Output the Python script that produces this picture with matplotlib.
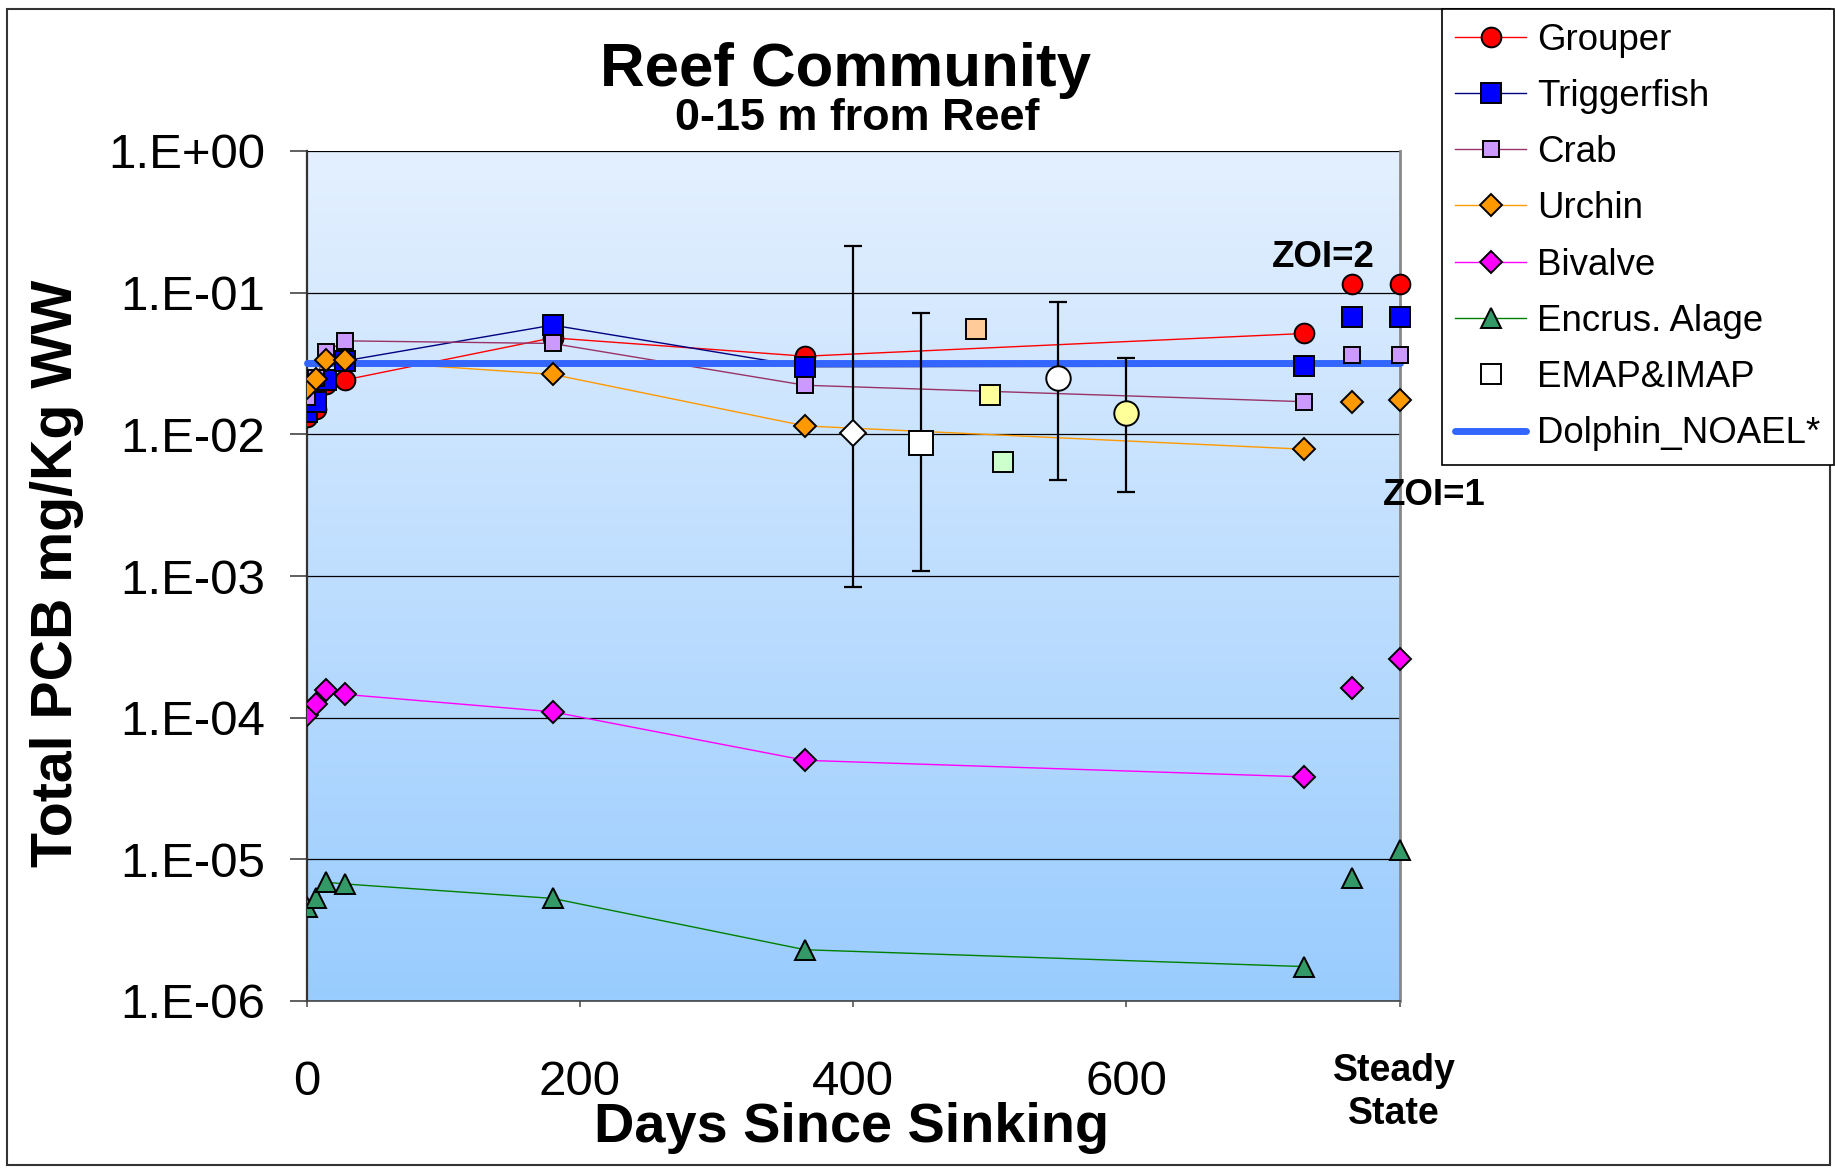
import numpy as np
import matplotlib
matplotlib.use("Agg")
import matplotlib.pyplot as plt
from matplotlib.lines import Line2D
from matplotlib.patches import Rectangle
from matplotlib.colors import LinearSegmentedColormap

plt.rcParams['font.family'] = ['Liberation Sans', 'DejaVu Sans']

# ---------------- data ----------------
days = [0, 7, 14, 28, 180, 365, 730]
ss_days = [765, 800]

grouper = [0.0133, 0.0150, 0.0225, 0.0242, 0.0480, 0.0356, 0.0515]
trigger = [0.0144, 0.0168, 0.0240, 0.0330, 0.0590, 0.0300, 0.0303]
crab = [0.0184, 0.0250, 0.0382, 0.0457, 0.0438, 0.0222, 0.0170]
urchin = [0.0211, 0.0245, 0.0334, 0.0334, 0.0265, 0.01146, 0.00785]
bivalve = [1.04e-4, 1.24e-4, 1.58e-4, 1.46e-4, 1.10e-4, 5.0e-5, 3.82e-5]
algae = [4.58e-6, 5.3e-6, 6.9e-6, 6.7e-6, 5.3e-6, 2.3e-6, 1.75e-6]

grouper_ss = [0.1146, 0.1146]
trigger_ss = [0.0668, 0.0668]
crab_ss = [0.0362, 0.0362]
urchin_ss = [0.0168, 0.0174]
bivalve_ss = [1.63e-4, 2.58e-4]
algae_ss = [7.43e-6, 1.17e-5]

emap_days = [400, 450, 490, 500, 510, 550, 600]
emap_vals = [0.0102, 0.00865, 0.0555, 0.0191, 0.00636, 0.0251, 0.0141]
emap_hi = [0.215, 0.0713, np.nan, np.nan, np.nan, 0.086, 0.0347]
emap_lo = [8.3e-4, 1.08e-3, np.nan, np.nan, np.nan, 4.77e-3, 3.93e-3]
emap_markers = ['D', 's', 's', 's', 's', 'o', 'o']
emap_faces = ['white', 'white', '#ffcc99', '#ffff99', '#ccffcc', 'white', '#ffff99']
emap_sizes = [13.3, 17.3, 14.2, 14.2, 14.2, 17.6, 17.6]

noael_days = [0, 800]
noael_value = 0.0318

series_names = ['Grouper', 'Triggerfish', 'Crab', 'Urchin', 'Bivalve', 'Encrus. Alage']
ytick_vals = [1e0, 1e-1, 1e-2, 1e-3, 1e-4, 1e-5, 1e-6]
xtick_vals = [0, 200, 400, 600, 800]
xtick_labels = ['0', '200', '400', '600', '']

# ---------------- figure ----------------
W, H = 1835, 1171
fig = plt.figure(figsize=(W / 100, H / 100), dpi=100)


def fx(px):
    return px / W


def fy(py):
    return 1 - py / H


L, R, T, B = 306.6, 1399.5, 151.0, 1001.0
pos = [fx(L), fy(B), (R - L) / W, (B - T) / H]

bg = fig.add_axes(pos, zorder=0)
grad = np.linspace(0, 1, 256).reshape(-1, 1)
cmap = LinearSegmentedColormap.from_list('g', ['#e4f0fe', '#99ccff'])
bg.imshow(grad, aspect='auto', cmap=cmap, extent=[0, 1, 0, 1], origin='upper')
bg.axis('off')

ax = fig.add_axes(pos, zorder=1)
ax.set_facecolor('none')
ax.set_yscale('log')
ax.set_xlim(0, 800)
ax.set_ylim(1e-6, 1e0)

mew = 1.4
styles = [
    (grouper, grouper_ss, '#ff0000', 'o', '#ff0000', 14.2),
    (trigger, trigger_ss, '#000080', 's', '#0000ff', 14.2),
    (crab, crab_ss, '#993366', 's', '#cc99ff', 11.3),
    (urchin, urchin_ss, '#ff9900', 'D', '#ff9900', 10.9),
    (bivalve, bivalve_ss, '#ff00ff', 'D', '#ff00ff', 10.9),
    (algae, algae_ss, '#008000', '^', '#339966', 14.5),
]

handles = []
for (vals, ssv, lc, mk, fc, ms), name in zip(styles, series_names):
    ax.plot(days, vals, color=lc, lw=1.0, zorder=2)
    ax.plot(days, vals, ls='none', marker=mk, ms=ms, mfc=fc, mec='black', mew=mew, zorder=4)
    ax.plot(ss_days, ssv, ls='none', marker=mk, ms=ms, mfc=fc, mec='black', mew=mew,
            zorder=4, clip_on=False)
    handles.append(Line2D([], [], color=lc, lw=1.0, marker=mk, ms=ms, mfc=fc,
                          mec='black', mew=mew))

# dolphin NOAEL
ax.plot(noael_days, [noael_value, noael_value], color='#3366ff', lw=5.0,
        solid_capstyle='round', zorder=3, clip_on=False)

# EMAP & IMAP
for d, v, hi, lo, mk, fc, ms in zip(emap_days, emap_vals, emap_hi, emap_lo,
                                    emap_markers, emap_faces, emap_sizes):
    if not np.isnan(hi):
        ax.errorbar([d], [v], yerr=[[v - lo], [hi - v]], fmt='none', ecolor='black',
                    elinewidth=1.6, capsize=6.2, capthick=1.6, zorder=3.5)
    ax.plot([d], [v], ls='none', marker=mk, ms=ms, mfc=fc, mec='black', mew=mew, zorder=4.5)

handles.append(Line2D([], [], ls='none', marker='s', ms=14.2, mfc='white',
                      mec='black', mew=mew))
handles.append(Line2D([], [], color='#3366ff', lw=5.0, solid_capstyle='round'))
labels = series_names + ['EMAP&IMAP', 'Dolphin_NOAEL*']

# axes styling
ax.set_yticks(ytick_vals)
ax.set_yticklabels(['1.E%+03d' % int(round(np.log10(v))) for v in ytick_vals])
ax.yaxis.set_minor_locator(matplotlib.ticker.NullLocator())
ax.set_xticks(xtick_vals)
ax.set_xticklabels(xtick_labels)
ax.tick_params(axis='y', direction='out', length=12, width=1.2, pad=18,
               labelsize=35.5, colors='#444444', labelcolor='black')
ax.tick_params(axis='x', direction='out', length=4.3, width=1.2, pad=38,
               labelsize=35.5, colors='#555555', labelcolor='black')
ax.grid(axis='y', which='major', color='black', lw=0.9)
ax.grid(axis='x', visible=False)
ax.spines['top'].set_visible(False)
ax.spines['left'].set_color('#333333')
ax.spines['left'].set_linewidth(1.6)
ax.spines['bottom'].set_color('#444444')
ax.spines['bottom'].set_linewidth(1.2)
ax.spines['right'].set_color('#888888')
ax.spines['right'].set_linewidth(2.0)

# texts
fig.text(fx(845.5), fy(86), 'Reef Community', ha='center', va='baseline',
         fontsize=44.5, fontweight='bold')
fig.text(fx(857), fy(130), '0-15 m from Reef', ha='center', va='baseline',
         fontsize=32.4, fontweight='bold')
fig.text(fx(852), fy(1142), 'Days Since Sinking', ha='center', va='baseline',
         fontsize=40.2, fontweight='bold')
fig.text(fx(72), fy(573.5), 'Total PCB mg/Kg WW', ha='center', va='baseline',
         rotation=90, rotation_mode='anchor', fontsize=41.2, fontweight='bold')
fig.text(fx(1394), fy(1081), 'Steady', ha='center', va='baseline',
         fontsize=27, fontweight='bold')
fig.text(fx(1394), fy(1124), 'State', ha='center', va='baseline',
         fontsize=27, fontweight='bold')
fig.text(fx(1323), fy(266.7), 'ZOI=2', ha='center', va='baseline',
         fontsize=26.4, fontweight='bold', zorder=6)
fig.text(fx(1434.5), fy(505), 'ZOI=1', ha='center', va='baseline',
         fontsize=26.4, fontweight='bold', zorder=6)

# legend
leg = fig.legend(handles, labels, loc='upper left',
                 bbox_to_anchor=(fx(1441.7), fy(9.3)), bbox_transform=fig.transFigure,
                 borderaxespad=0, fontsize=26.4, borderpad=0.36, labelspacing=0.58,
                 handlelength=1.95, handletextpad=0.3, fancybox=False,
                 framealpha=1, edgecolor='black', facecolor='white', numpoints=1)
leg.get_frame().set_linewidth(1.2)
leg.set_zorder(10)

# figure border
fig.add_artist(Rectangle((fx(6.7), fy(1165)), fx(1830) - fx(6.7), fy(9.3) - fy(1165),
                         transform=fig.transFigure, fill=False, ec='#333333', lw=1.5,
                         zorder=0))

fig.savefig('out.png', dpi=100)
